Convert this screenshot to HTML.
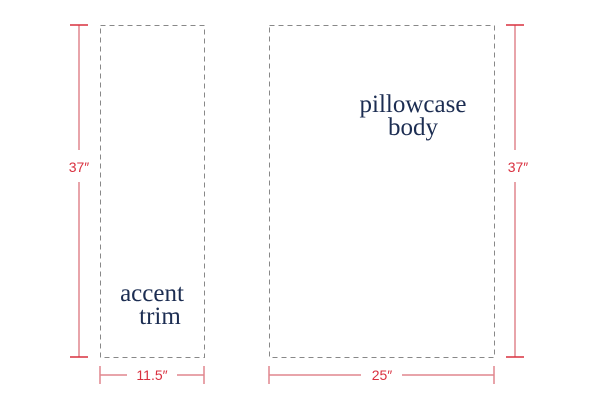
<!DOCTYPE html>
<html><head><meta charset="utf-8"><style>
body{margin:0;background:#fff;}
svg{display:block;}
</style></head><body>
<svg width="598" height="400" viewBox="0 0 598 400" font-family="Liberation Sans, sans-serif">
<rect x="100.5" y="25.5" width="104" height="332" fill="none" stroke="#888" stroke-dasharray="5,4"/>
<rect x="269.5" y="25.5" width="225" height="332" fill="none" stroke="#888" stroke-dasharray="5,4"/>
<g stroke="#e0868e" stroke-width="1.5">
<line x1="79" y1="25" x2="79" y2="150"/><line x1="79" y1="182" x2="79" y2="357"/>
<line x1="70" y1="25" x2="88" y2="25" stroke="#d9303f"/><line x1="70" y1="357" x2="88" y2="357" stroke="#d9303f"/>
</g>
<text x="79" y="172" fill="#d9303f" font-size="14" text-anchor="middle">37″</text>
<g stroke="#e0868e" stroke-width="1.5">
<line x1="515" y1="25" x2="515" y2="150"/><line x1="515" y1="182" x2="515" y2="357"/>
<line x1="506" y1="25" x2="524" y2="25" stroke="#d9303f"/><line x1="506" y1="357" x2="524" y2="357" stroke="#d9303f"/>
</g>
<text x="518" y="172" fill="#d9303f" font-size="14" text-anchor="middle">37″</text>
<g stroke="#e0868e" stroke-width="1.5">
<line x1="100" y1="375" x2="127" y2="375"/><line x1="177" y1="375" x2="204" y2="375"/>
<line x1="100" y1="366" x2="100" y2="384"/><line x1="204" y1="366" x2="204" y2="384"/>
</g>
<text x="152" y="380" fill="#d9303f" font-size="14" text-anchor="middle">11.5″</text>
<g stroke="#e0868e" stroke-width="1.5">
<line x1="269" y1="375" x2="361" y2="375"/><line x1="402" y1="375" x2="494" y2="375"/>
<line x1="269" y1="366" x2="269" y2="384"/><line x1="494" y1="366" x2="494" y2="384"/>
</g>
<text x="382" y="380" fill="#d9303f" font-size="14" text-anchor="middle">25″</text>
<g fill="#1c2d52" font-family="Liberation Serif, serif" font-size="25" text-anchor="middle">
<text x="413" y="112"><tspan x="413">pillowcase</tspan><tspan x="413" dy="23">body</tspan></text>
<text x="152" y="301"><tspan x="152">accent</tspan><tspan x="160" dy="23">trim</tspan></text>
</g>
</svg>
</body></html>
